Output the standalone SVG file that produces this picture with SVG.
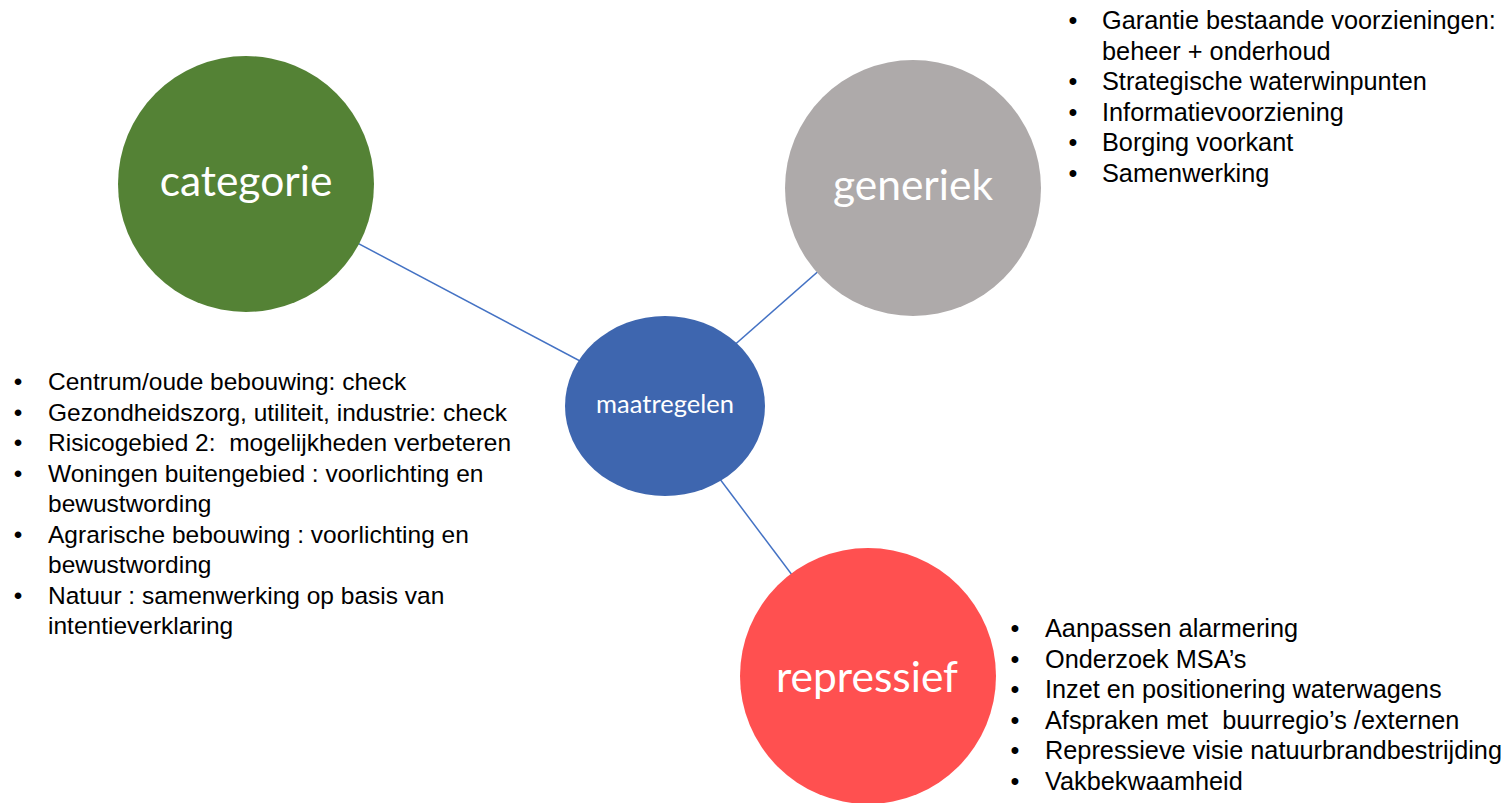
<svg xmlns="http://www.w3.org/2000/svg" width="1508" height="803" viewBox="0 0 1508 803">
<style>
.lbl{font-family:Lato,"Open Sans",sans-serif;fill:#ffffff;text-anchor:middle}
.big{font-size:42.5px}
.lst{font-family:"Liberation Sans",Arial,sans-serif;font-size:24.5px;fill:#000000}
.lst2{font-size:25.3px}
.bul{text-anchor:middle}
.con{stroke:#4472C4;stroke-width:1.5;fill:none}
</style>
<rect width="1508" height="803" fill="#ffffff"/>
<g id="connectors">
<line class="con" x1="246" y1="184" x2="665" y2="406"/>
<line class="con" x1="913" y1="188" x2="665" y2="406"/>
<line class="con" x1="868" y1="676" x2="665" y2="406"/>
</g>
<g id="node-categorie">
<circle cx="246" cy="184" r="128" fill="#548235"/>
<text class="lbl big" x="246" y="196">categorie</text>
</g>
<g id="node-generiek">
<circle cx="913" cy="188" r="128" fill="#AEAAAA"/>
<text class="lbl big" x="913" y="200">generiek</text>
</g>
<g id="node-maatregelen">
<ellipse cx="665" cy="406" rx="100" ry="90" fill="#3E66AF"/>
<text class="lbl" x="665" y="413" font-size="25.5">maatregelen</text>
</g>
<g id="node-repressief">
<circle cx="868" cy="676" r="128" fill="#FF5050"/>
<text class="lbl big" x="867" y="692">repressief</text>
</g>
<g id="list-generiek" class="lst lst2">
<text class="bul" x="1073" y="29">•</text><text x="1102" y="29">Garantie bestaande voorzieningen:</text>
<text x="1102" y="59.5">beheer + onderhoud</text>
<text class="bul" x="1073" y="90">•</text><text x="1102" y="90">Strategische waterwinpunten</text>
<text class="bul" x="1073" y="120.5">•</text><text x="1102" y="120.5">Informatievoorziening</text>
<text class="bul" x="1073" y="151">•</text><text x="1102" y="151">Borging voorkant</text>
<text class="bul" x="1073" y="181.5">•</text><text x="1102" y="181.5">Samenwerking</text>
</g>
<g id="list-categorie" class="lst">
<text class="bul" x="18" y="390">•</text><text x="48" y="390">Centrum/oude bebouwing: check</text>
<text class="bul" x="18" y="420.5">•</text><text x="48" y="420.5">Gezondheidszorg, utiliteit, industrie: check</text>
<text class="bul" x="18" y="451">•</text><text x="48" y="451" xml:space="preserve">Risicogebied 2:  mogelijkheden verbeteren</text>
<text class="bul" x="18" y="481.5">•</text><text x="48" y="481.5">Woningen buitengebied : voorlichting en</text>
<text x="48" y="512">bewustwording</text>
<text class="bul" x="18" y="542.5">•</text><text x="48" y="542.5">Agrarische bebouwing : voorlichting en</text>
<text x="48" y="573">bewustwording</text>
<text class="bul" x="18" y="603.5">•</text><text x="48" y="603.5">Natuur : samenwerking op basis van</text>
<text x="48" y="634">intentieverklaring</text>
</g>
<g id="list-repressief" class="lst lst2">
<text class="bul" x="1015" y="637">•</text><text x="1045" y="637">Aanpassen alarmering</text>
<text class="bul" x="1015" y="667.5">•</text><text x="1045" y="667.5">Onderzoek MSA’s</text>
<text class="bul" x="1015" y="698">•</text><text x="1045" y="698">Inzet en positionering waterwagens</text>
<text class="bul" x="1015" y="728.5">•</text><text x="1045" y="728.5" xml:space="preserve">Afspraken met  buurregio’s /externen</text>
<text class="bul" x="1015" y="759">•</text><text x="1045" y="759">Repressieve visie natuurbrandbestrijding</text>
<text class="bul" x="1015" y="789.5">•</text><text x="1045" y="789.5">Vakbekwaamheid</text>
</g>
</svg>
